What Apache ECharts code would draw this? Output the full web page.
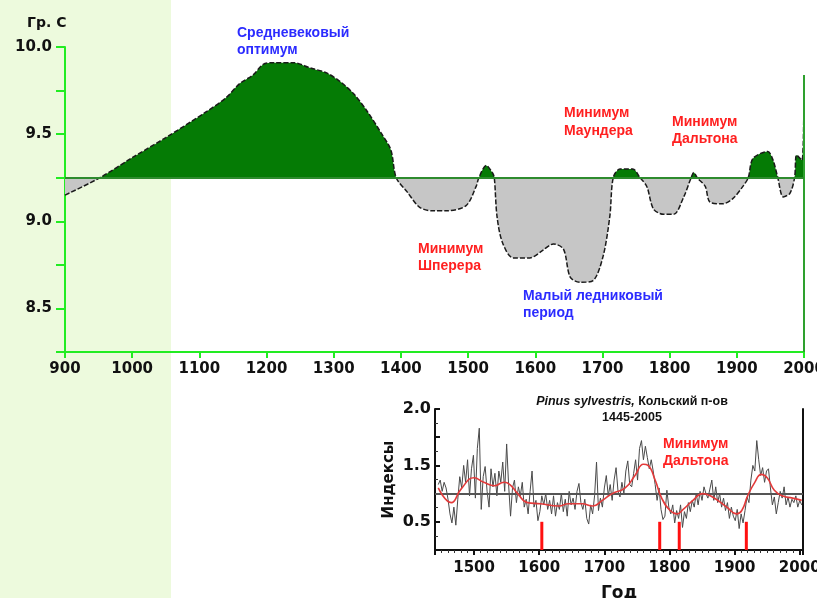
<!DOCTYPE html>
<html><head><meta charset="utf-8">
<script src="https://cdn.jsdelivr.net/npm/echarts@6/dist/echarts.min.js"></script>
<style>html,body{margin:0;padding:0;background:#fff}#c{width:817px;height:598px}</style>
</head><body><div id="c"></div>
<script>
// ---- Main chart: temperature reconstruction (°C) ----
const tempYears = [900, 952, 1000, 1050, 1111, 1140, 1160, 1180, 1195, 1210, 1240, 1265, 1290, 1310, 1330, 1350, 1370, 1385, 1393,
  1409, 1428, 1448, 1468, 1497, 1512, 1516, 1527, 1536, 1539, 1543, 1551, 1567, 1592, 1610, 1627, 1642, 1652, 1667, 1686,
  1701, 1711, 1716, 1726, 1745, 1756, 1766, 1776, 1791, 1806, 1821, 1832, 1836, 1841, 1853, 1860, 1879, 1894, 1909, 1917,
  1924, 1946, 1954, 1961, 1969, 1979, 1986, 1989, 1997, 2000];
const tempValues = [9.15, 9.25, 9.365, 9.48, 9.63, 9.71, 9.79, 9.84, 9.90, 9.91, 9.91, 9.88, 9.85, 9.80, 9.73, 9.63, 9.51, 9.41, 9.25,
  9.17, 9.08, 9.06, 9.06, 9.09, 9.20, 9.25, 9.32, 9.28, 9.25, 9.03, 8.88, 8.79, 8.79, 8.83, 8.87, 8.84, 8.68, 8.65, 8.66,
  8.80, 9.03, 9.25, 9.30, 9.30, 9.25, 9.20, 9.07, 9.04, 9.04, 9.14, 9.25, 9.28, 9.25, 9.20, 9.11, 9.10, 9.13, 9.20, 9.25,
  9.36, 9.40, 9.35, 9.25, 9.14, 9.16, 9.25, 9.38, 9.35, 9.84];
const baselineTemp = 9.25;
const spikeYears = [2000, 2000];
const spikeValues = [8.25, 9.84];

// ---- Inset: Pinus sylvestris ring-width indices ----
const ringStartYear = 1445;
const ringStep = 3;
const ringValues = [
  1.16, 1.24, 1.04, 1.20, 1.10, 0.90, 0.64, 0.48, 0.76, 0.44,
  0.90, 1.30, 1.10, 1.50, 1.20, 1.60, 0.96, 1.44, 1.68, 0.92,
  1.80, 2.16, 0.72, 1.30, 1.48, 1.04, 0.76, 1.44, 1.12, 1.36,
  0.96, 1.40, 1.20, 1.56, 1.04, 1.88, 1.16, 0.60, 1.10, 1.24,
  0.84, 1.12, 0.96, 1.20, 0.76, 0.90, 0.64, 1.04, 1.40, 0.76,
  0.88, 0.52, 0.68, 0.96, 0.80, 1.00, 0.72, 0.88, 0.64, 0.96,
  0.60, 0.84, 0.72, 1.00, 0.68, 0.90, 0.60, 1.04, 0.80, 0.92,
  0.72, 1.04, 1.18, 0.84, 0.72, 0.90, 0.56, 0.46, 0.80, 0.64,
  0.96, 1.56, 0.70, 0.92, 0.76, 1.10, 1.32, 0.96, 1.16, 0.88,
  1.24, 1.46, 1.04, 0.94, 1.20, 1.00, 1.40, 1.58, 1.16, 1.12,
  1.36, 1.60, 1.24, 1.80, 1.94, 1.60, 1.84, 1.64, 1.44, 1.60,
  1.40, 1.16, 0.88, 1.10, 0.72, 0.54, 0.60, 1.06, 0.76, 0.64,
  0.80, 0.48, 0.70, 0.56, 0.80, 0.40, 0.68, 0.56, 0.84, 0.68,
  0.88, 0.76, 1.00, 0.80, 1.04, 0.88, 1.12, 1.00, 0.92, 1.08,
  1.24, 0.88, 1.12, 0.84, 1.00, 0.76, 0.92, 0.70, 0.84, 0.56,
  0.76, 0.60, 0.52, 0.72, 0.38, 0.64, 0.48, 0.70, 0.94, 0.84,
  1.24, 1.50, 1.40, 1.94, 1.60, 1.32, 1.46, 1.20, 1.40, 1.44,
  1.10, 0.80, 0.94, 0.64, 0.84, 1.04, 0.92, 1.12, 0.80, 0.94,
  0.76, 0.90, 0.84, 0.96, 0.76, 0.88, 0.80];
const smoothYears = [1445, 1465, 1480, 1500, 1515, 1531, 1546, 1555, 1567, 1582, 1602, 1630, 1645, 1666, 1682, 1697, 1712,
  1732, 1747, 1760, 1767, 1778, 1788, 1801, 1811, 1821, 1836, 1851, 1866, 1888, 1903, 1911, 1920, 1931, 1941, 1950,
  1961, 1973, 1989, 2003];
const smoothValues = [1.10, 0.84, 1.08, 1.28, 1.20, 1.14, 1.20, 1.16, 1.00, 0.84, 0.82, 0.78, 0.82, 0.82, 0.78, 0.88, 1.00,
  1.10, 1.32, 1.52, 1.50, 1.24, 0.92, 0.70, 0.64, 0.72, 0.88, 1.00, 0.94, 0.76, 0.64, 0.70, 0.96, 1.20, 1.34, 1.28,
  1.06, 0.96, 0.92, 0.88];
const markerYears = [1604, 1785, 1815, 1918];
const markerHeight = 0.5;
const insetRefLevel = 1.0;
const insetYTickLabels = { '0.5': '0.5', '1.5': '1.5', '2.5': '2.0' };

const F = '"DejaVu Sans", sans-serif';
const A = '"Liberation Sans", Arial, sans-serif';
const LIME = '#22ec22';

const chart = echarts.init(document.getElementById('c'), null, { renderer: 'canvas' });
const tempData = tempYears.map((y, i) => [y, tempValues[i]]);
const spikeData = spikeYears.map((y, i) => [y, spikeValues[i]]);
const ringData = ringValues.map((v, i) => [ringStartYear + i * ringStep, v]);
const smoothData = smoothYears.map((y, i) => [y, smoothValues[i]]);
const markerData = markerYears.map(y => [y, markerHeight]);

function txt(x, y, text, color, extra) {
  return {
    type: 'text', x: x, y: y, silent: true, z: 50,
    style: Object.assign({ text: text, fill: color, font: 'bold 14px ' + A, lineHeight: 17, verticalAlign: 'top', align: 'left' }, extra || {})
  };
}

const option = {
  animation: false,
  backgroundColor: '#ffffff',
  grid: [
    { left: 65, right: 13, top: 47, bottom: 246, outerBoundsMode: 'none', containLabel: false },
    { left: 435, right: 14, top: 409, bottom: 48, outerBoundsMode: 'none', containLabel: false }
  ],
  visualMap: {
    show: false, seriesIndex: 0, dimension: 1,
    pieces: [{ gte: 8.0, lt: baselineTemp, color: '#c6c6c6' }, { gte: baselineTemp, lte: 10.5, color: '#057b05' }]
  },
  xAxis: [
    {
      gridIndex: 0, type: 'value', min: 900, max: 2000, interval: 100,
      axisLine: { show: true, onZero: false, lineStyle: { color: LIME, width: 2 } },
      axisTick: { show: true, length: 6, lineStyle: { color: LIME, width: 2 } },
      axisLabel: { color: '#111', fontFamily: F, fontWeight: 'bold', fontSize: 15, margin: 10, formatter: v => String(v) },
      splitLine: { show: false }
    },
    {
      gridIndex: 1, type: 'value', min: 1440, max: 2005,
      axisLine: { show: true, onZero: false, lineStyle: { color: '#111', width: 2 } },
      axisTick: { show: true, length: 5, lineStyle: { color: '#111', width: 2 } },
      minorTick: { show: true, splitNumber: 10, length: 3, lineStyle: { color: '#333', width: 1 } },
      axisLabel: { color: '#111', fontFamily: F, fontWeight: 'bold', fontSize: 15, margin: 11,
        formatter: v => (v % 100 === 0 ? String(v) : '') },
      splitLine: { show: false }, minorSplitLine: { show: false },
      name: 'Год', nameLocation: 'middle', nameGap: 35,
      nameTextStyle: { color: '#111', fontFamily: F, fontWeight: 'bold', fontSize: 17 }
    }
  ],
  yAxis: [
    {
      gridIndex: 0, type: 'value', min: 8.25, max: 10, interval: 0.25,
      axisLine: { show: true, onZero: false, lineStyle: { color: LIME, width: 2 } },
      axisTick: { show: true, length: 9, lineStyle: { color: LIME, width: 2 } },
      axisLabel: { color: '#111', fontFamily: F, fontWeight: 'bold', fontSize: 15, margin: 13,
        formatter: v => (Math.round(v * 100) % 50 === 0 ? v.toFixed(1) : '') },
      splitLine: { show: false }
    },
    {
      gridIndex: 1, type: 'value', min: 0, max: 2.5, interval: 0.5,
      axisLine: { show: true, onZero: false, lineStyle: { color: '#111', width: 2 } },
      axisTick: { show: true, inside: true, length: 5, lineStyle: { color: '#111', width: 2 } },
      minorTick: { show: true, splitNumber: 2, length: 3, lineStyle: { color: '#333' } },
      axisLabel: { color: '#111', fontFamily: F, fontWeight: 'bold', fontSize: 16, margin: 4,
        formatter: v => insetYTickLabels[String(v)] || '' },
      splitLine: { show: false },
      name: 'Индексы', nameLocation: 'middle', nameGap: 38, nameRotate: 90,
      nameTextStyle: { color: '#111', fontFamily: F, fontWeight: 'bold', fontSize: 15 }
    },
    {
      gridIndex: 1, type: 'value', min: 0, max: 2.5, position: 'right',
      axisLine: { show: true, onZero: false, lineStyle: { color: '#111', width: 2 } },
      axisTick: { show: false }, axisLabel: { show: false }, splitLine: { show: false }
    }
  ],
  series: [
    {
      type: 'line', xAxisIndex: 0, yAxisIndex: 0, data: tempData, showSymbol: false, smooth: 0.3,
      lineStyle: { color: '#1a1a1a', width: 1.5, type: [5, 2] },
      areaStyle: { origin: baselineTemp, opacity: 1 },
      markLine: { silent: true, symbol: 'none', label: { show: false },
        lineStyle: { color: '#2e8b2e', width: 2, type: 'solid' }, data: [{ yAxis: baselineTemp }] },
      z: 3
    },
    {
      type: 'line', xAxisIndex: 0, yAxisIndex: 0, data: spikeData, showSymbol: false,
      lineStyle: { color: '#2ea02e', width: 2 }, z: 4
    },
    {
      type: 'line', xAxisIndex: 1, yAxisIndex: 1, data: ringData, showSymbol: false,
      lineStyle: { color: '#4a4a4a', width: 1 },
      markLine: { silent: true, symbol: 'none', label: { show: false },
        lineStyle: { color: '#555', width: 2, type: 'solid' }, data: [{ yAxis: insetRefLevel }] },
      z: 3
    },
    {
      type: 'line', xAxisIndex: 1, yAxisIndex: 1, data: smoothData, showSymbol: false, smooth: true,
      lineStyle: { color: '#e33a3a', width: 1.6 }, z: 5
    },
    {
      type: 'bar', xAxisIndex: 1, yAxisIndex: 1, data: markerData, barWidth: 3,
      itemStyle: { color: '#ff1010' }, z: 6
    }
  ],
  graphic: [
    { type: 'rect', z: -100, silent: true, shape: { x: 0, y: 0, width: 171, height: 598 }, style: { fill: '#edfadd' } },
    txt(27, 15, 'Гр. С', '#111', { font: 'bold 14px ' + F }),
    txt(237, 25, 'Средневековый\nоптимум', '#2b2bff'),
    txt(564, 104, 'Минимум\nМаундера', '#ff2020', { lineHeight: 18 }),
    txt(672, 114, 'Минимум\nДальтона', '#ff2020'),
    txt(418, 241, 'Минимум\nШперера', '#ff2020'),
    txt(523, 288, 'Малый ледниковый\nпериод', '#2b2bff'),
    txt(663, 436, 'Минимум\nДальтона', '#ff2020'),
    {
      type: 'text', x: 632, y: 395, silent: true, z: 50,
      style: { text: '{i|Pinus sylvestris,} {b|Кольский п-ов}', align: 'center', verticalAlign: 'top',
        rich: { i: { font: 'italic bold 12.5px ' + A, fill: '#111' }, b: { font: 'bold 12.5px ' + A, fill: '#111' } } }
    },
    txt(632, 410, '1445-2005', '#111', { font: 'bold 12.5px ' + A, align: 'center', lineHeight: 15 })
  ]
};
chart.setOption(option);
</script>
</body></html>
